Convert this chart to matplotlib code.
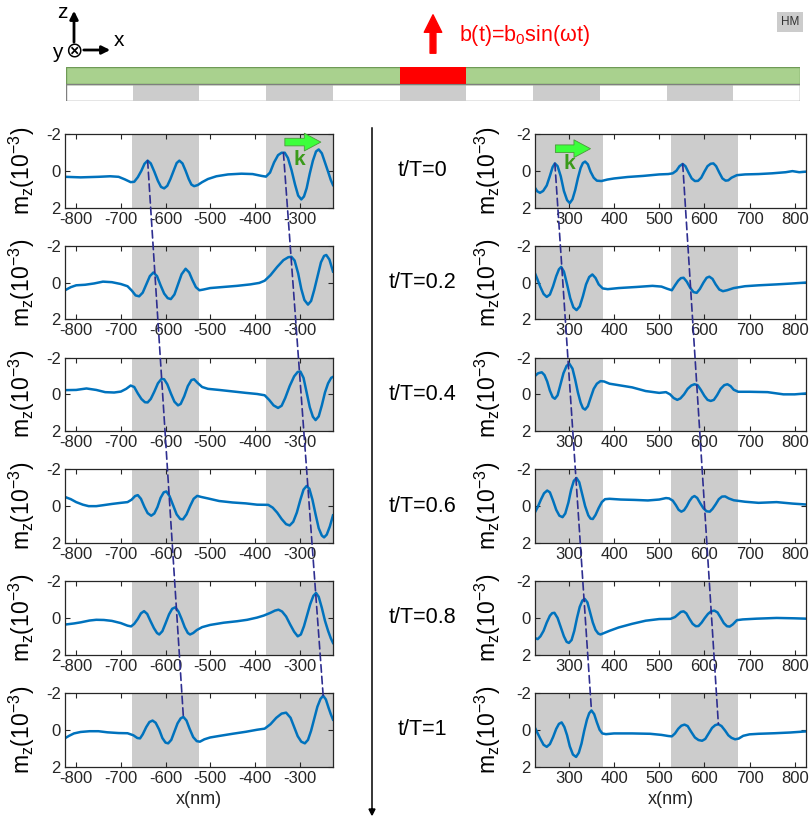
import matplotlib
matplotlib.use("Agg")
import matplotlib.pyplot as plt
from matplotlib.patches import Rectangle, ConnectionPatch

plt.rcParams['font.family'] = ['Liberation Sans', 'DejaVu Sans']
plt.rcParams['mathtext.default'] = 'regular'
plt.rcParams['axes.unicode_minus'] = False

# ---- data (x in nm, mz in 1e-3) ----
time_labels = ["t/T=0", "t/T=0.2", "t/T=0.4", "t/T=0.6", "t/T=0.8", "t/T=1"]
shaded = [(-675, -525), (-375, -225), (-75, 75), (225, 375), (525, 675)]
antenna = (-75, 75)

x_L0 = [-825, -790, -750, -724, -705, -691, -678, -670, -662, -654, -647, -640, -633, -625, -617, -610, -603, -596,
        -589, -581, -575, -569, -562, -555, -548, -542, -536, -528, -518, -505, -486, -460, -430, -405, -385, -375,
        -366, -357, -348, -340, -333, -326, -318, -310, -303, -296, -290, -284, -277, -270, -263, -257, -250, -243,
        -236, -230, -225]
mz_L0 = [0.33, 0.36, 0.33, 0.30, 0.33, 0.47, 0.62, 0.60, 0.35, 0.0, -0.38, -0.55, -0.40, 0.05, 0.55, 0.88, 0.96, 0.82,
         0.45, -0.05, -0.42, -0.55, -0.40, 0.0, 0.45, 0.75, 0.84, 0.78, 0.62, 0.45, 0.30, 0.20, 0.16, 0.18, 0.28, 0.32,
         0.10, -0.45, -0.85, -0.98, -0.98, -0.70, -0.05, 0.75, 1.35, 1.56, 1.40, 0.95, 0.15, -0.55, -1.05, -1.16, -0.95,
         -0.45, 0.05, 0.50, 0.78]

x_L1 = [-825, -812, -800, -780, -760, -740, -720, -700, -685, -675, -667, -659, -651, -643, -635, -627, -619, -611,
        -603, -595, -588, -580, -572, -564, -555, -547, -540, -532, -524, -515, -500, -470, -440, -410, -390, -378,
        -365, -350, -336, -325, -318, -311, -303, -296, -289, -281, -274, -267, -260, -252, -245, -240, -233, -225]
mz_L1 = [0.42, 0.25, 0.15, 0.12, 0.05, -0.05, -0.02, 0.08, 0.20, 0.45, 0.70, 0.75, 0.55, 0.10, -0.35, -0.55, -0.35,
         0.15, 0.60, 0.85, 0.90, 0.65, 0.10, -0.45, -0.75, -0.55, -0.15, 0.25, 0.42, 0.38, 0.30, 0.24, 0.18, 0.10, 0.02,
         -0.10, -0.40, -0.85, -1.22, -1.38, -1.40, -1.20, -0.50, 0.35, 0.95, 1.20, 1.00, 0.40, -0.30, -1.10, -1.45,
         -1.50, -1.25, -0.60]

x_L2 = [-825, -800, -777, -755, -735, -715, -700, -688, -678, -670, -662, -654, -646, -640, -633, -625, -617, -609,
        -603, -596, -588, -580, -572, -566, -558, -550, -542, -536, -528, -518, -505, -480, -450, -420, -395, -378,
        -368, -358, -348, -340, -332, -322, -312, -304, -298, -291, -284, -277, -270, -264, -257, -250, -243, -236,
        -229, -225]
mz_L2 = [-0.23, -0.24, -0.32, -0.24, -0.12, -0.10, -0.15, -0.30, -0.48, -0.40, -0.05, 0.25, 0.43, 0.44, 0.25, -0.15,
         -0.60, -0.84, -0.82, -0.55, -0.05, 0.40, 0.60, 0.52, 0.10, -0.45, -0.78, -0.82, -0.62, -0.40, -0.30, -0.24,
         -0.16, -0.08, -0.02, 0.05, 0.30, 0.60, 0.74, 0.62, 0.20, -0.45, -0.98, -1.22, -1.24, -0.90, -0.10, 0.70, 1.22,
         1.40, 1.20, 0.60, -0.10, -0.60, -0.90, -0.95]

x_L3 = [-825, -812, -800, -785, -772, -755, -740, -720, -700, -685, -676, -668, -662, -655, -647, -640, -632, -625,
        -618, -611, -604, -598, -591, -583, -575, -567, -561, -553, -545, -537, -529, -520, -505, -480, -450, -420,
        -395, -370, -360, -350, -340, -330, -322, -314, -306, -298, -291, -284, -278, -271, -264, -257, -250, -245,
        -239, -232, -225]
mz_L3 = [-0.50, -0.38, -0.22, -0.08, 0.0, 0.0, -0.05, -0.12, -0.18, -0.22, -0.35, -0.55, -0.60, -0.40, 0.05, 0.38, 0.52,
         0.40, 0.05, -0.45, -0.75, -0.80, -0.55, -0.05, 0.45, 0.70, 0.72, 0.45, 0.0, -0.40, -0.56, -0.50, -0.42, -0.28,
         -0.20, -0.15, -0.08, -0.07, 0.08, 0.35, 0.70, 0.98, 1.05, 0.85, 0.35, -0.35, -0.90, -1.10, -0.95, -0.35, 0.45,
         1.20, 1.60, 1.70, 1.55, 1.10, 0.50]

x_L4 = [-825, -805, -790, -770, -755, -738, -720, -700, -685, -677, -670, -662, -655, -648, -641, -634, -626, -619,
        -614, -607, -600, -592, -585, -578, -571, -564, -557, -550, -545, -538, -530, -518, -500, -470, -440, -417,
        -395, -380, -365, -355, -347, -339, -330, -321, -312, -304, -297, -290, -283, -276, -269, -263, -257, -250,
        -243, -236, -230, -225]
mz_L4 = [0.36, 0.30, 0.24, 0.14, 0.10, 0.11, 0.16, 0.28, 0.42, 0.46, 0.32, 0.05, -0.25, -0.37, -0.22, 0.15, 0.55, 0.82,
         0.90, 0.72, 0.30, -0.20, -0.50, -0.58, -0.35, 0.05, 0.50, 0.82, 0.90, 0.82, 0.66, 0.50, 0.38, 0.26, 0.18, 0.10,
         -0.02, -0.13, -0.28, -0.40, -0.45, -0.35, -0.08, 0.35, 0.75, 1.00, 0.90, 0.45, -0.15, -0.75, -1.20, -1.36,
         -1.15, -0.55, 0.15, 0.70, 1.10, 1.36]

x_L5 = [-825, -815, -805, -790, -770, -750, -730, -705, -685, -672, -663, -657, -651, -643, -636, -629, -622, -614,
        -607, -600, -594, -587, -580, -573, -566, -560, -553, -546, -538, -530, -523, -513, -500, -478, -450, -420,
        -395, -378, -365, -352, -340, -330, -320, -312, -304, -296, -288, -281, -274, -267, -260, -253, -247, -241,
        -235, -230, -225]
mz_L5 = [0.46, 0.32, 0.20, 0.12, 0.08, 0.08, 0.14, 0.18, 0.19, 0.30, 0.45, 0.47, 0.25, -0.15, -0.42, -0.50, -0.38, 0.0,
         0.45, 0.70, 0.74, 0.55, 0.10, -0.35, -0.62, -0.70, -0.50, -0.05, 0.40, 0.62, 0.65, 0.52, 0.42, 0.33, 0.22,
         0.11, 0.0, -0.06, -0.30, -0.65, -0.88, -0.93, -0.65, -0.15, 0.35, 0.65, 0.74, 0.55, 0.05, -0.60, -1.25, -1.68,
         -1.85, -1.65, -1.20, -0.85, -0.55]

x_R0 = [225, 230, 236, 243, 251, 258, 264, 269, 275, 282, 289, 296, 302, 308, 314, 320, 326, 331, 336, 342, 348, 355,
        362, 372, 385, 400, 430, 465, 500, 520, 530, 538, 545, 552, 558, 565, 572, 579, 586, 593, 600, 607, 614, 620,
        626, 633, 640, 647, 653, 660, 672, 690, 720, 750, 780, 795, 810, 825]
mz_R0 = [0.93, 1.12, 1.20, 1.10, 0.80, 0.28, -0.20, -0.40, -0.25, 0.30, 1.10, 1.60, 1.76, 1.55, 1.05, 0.40, -0.15,
         -0.42, -0.50, -0.35, 0.05, 0.38, 0.54, 0.56, 0.48, 0.42, 0.34, 0.28, 0.20, 0.18, 0.14, 0.0, -0.25, -0.37,
         -0.25, 0.10, 0.42, 0.56, 0.55, 0.38, 0.05, -0.25, -0.38, -0.40, -0.25, 0.10, 0.42, 0.54, 0.52, 0.38, 0.24,
         0.20, 0.18, 0.14, 0.08, 0.02, 0.08, 0.05]

x_R1 = [225, 230, 237, 244, 251, 258, 265, 272, 278, 283, 289, 296, 303, 310, 317, 324, 331, 338, 345, 352, 359, 366,
        375, 386, 410, 450, 485, 505, 518, 528, 535, 542, 548, 554, 561, 569, 576, 583, 590, 598, 605, 611, 618, 625,
        633, 641, 650, 665, 690, 720, 760, 795, 825]
mz_R1 = [-0.50, -0.20, 0.25, 0.62, 0.78, 0.65, 0.20, -0.35, -0.72, -0.85, -0.60, 0.10, 0.85, 1.35, 1.50, 1.30, 0.75,
         0.10, -0.30, -0.44, -0.25, 0.10, 0.32, 0.36, 0.30, 0.24, 0.18, 0.22, 0.34, 0.42, 0.15, -0.10, -0.24, -0.26,
         -0.05, 0.30, 0.52, 0.56, 0.35, 0.0, -0.26, -0.32, -0.20, 0.10, 0.38, 0.47, 0.42, 0.30, 0.20, 0.15, 0.10, 0.05,
         0.0]

x_R2 = [225, 232, 240, 246, 252, 258, 264, 269, 275, 281, 288, 295, 301, 308, 314, 320, 326, 331, 336, 342, 348, 355,
        362, 370, 378, 390, 410, 440, 470, 500, 515, 524, 532, 540, 547, 555, 563, 571, 578, 585, 592, 600, 607, 614,
        621, 628, 636, 644, 651, 658, 665, 675, 700, 740, 775, 800, 825]
mz_R2 = [-1.00, -1.15, -1.20, -1.05, -0.70, -0.20, 0.15, 0.24, 0.05, -0.50, -1.15, -1.55, -1.67, -1.40, -0.80, -0.10,
         0.45, 0.75, 0.83, 0.65, 0.20, -0.30, -0.58, -0.72, -0.70, -0.58, -0.50, -0.38, -0.18, -0.08, -0.12, 0.0, 0.20,
         0.30, 0.22, 0.0, -0.30, -0.48, -0.55, -0.50, -0.25, 0.08, 0.30, 0.36, 0.30, 0.05, -0.30, -0.50, -0.55, -0.45,
         -0.25, -0.14, -0.14, -0.12, 0.0, 0.0, -0.05]

x_R3 = [225, 231, 238, 245, 252, 258, 265, 272, 279, 286, 292, 299, 305, 311, 317, 323, 329, 336, 343, 348, 353, 359,
        366, 373, 380, 390, 415, 445, 475, 500, 515, 522, 530, 537, 543, 549, 555, 561, 567, 573, 578, 584, 591, 598,
        605, 612, 618, 625, 632, 639, 646, 654, 665, 690, 720, 760, 795, 825]
mz_R3 = [0.33, 0.05, -0.35, -0.70, -0.85, -0.75, -0.30, 0.20, 0.52, 0.60, 0.40, -0.20, -0.90, -1.38, -1.53, -1.30,
         -0.70, 0.0, 0.50, 0.68, 0.70, 0.48, 0.10, -0.22, -0.38, -0.40, -0.36, -0.34, -0.31, -0.36, -0.44, -0.42, -0.30,
         -0.05, 0.20, 0.30, 0.22, 0.0, -0.28, -0.48, -0.55, -0.45, -0.15, 0.12, 0.28, 0.30, 0.15, -0.10, -0.38, -0.52,
         -0.53, -0.42, -0.32, -0.24, -0.18, -0.22, -0.14, -0.09]

x_R4 = [225, 231, 237, 244, 251, 258, 263, 268, 275, 282, 289, 295, 300, 306, 312, 318, 324, 330, 335, 341, 347, 353,
        359, 365, 370, 378, 390, 410, 440, 470, 500, 525, 535, 542, 548, 554, 560, 567, 574, 581, 587, 594, 601, 608,
        615, 622, 629, 636, 643, 650, 656, 663, 672, 685, 715, 760, 800, 825]
mz_R4 = [1.10, 1.15, 1.00, 0.70, 0.25, -0.12, -0.26, -0.28, 0.0, 0.50, 1.00, 1.30, 1.36, 1.20, 0.70, 0.0, -0.60, -0.95,
         -1.04, -0.85, -0.30, 0.25, 0.65, 0.85, 0.90, 0.82, 0.70, 0.52, 0.32, 0.15, 0.06, 0.05, -0.05, -0.20, -0.33,
         -0.36, -0.25, 0.05, 0.32, 0.45, 0.44, 0.25, 0.0, -0.22, -0.36, -0.40, -0.30, -0.02, 0.28, 0.45, 0.47, 0.35,
         0.12, 0.08, 0.04, 0.0, 0.02, 0.04]

x_R5 = [225, 230, 237, 244, 251, 258, 265, 272, 278, 284, 290, 296, 302, 309, 316, 322, 328, 334, 340, 345, 350, 356,
        362, 368, 374, 382, 400, 440, 480, 505, 520, 528, 535, 542, 549, 556, 563, 571, 579, 587, 595, 602, 609, 617,
        624, 631, 638, 646, 653, 660, 668, 676, 686, 700, 720, 755, 790, 825]
mz_R5 = [-0.10, 0.15, 0.50, 0.82, 0.93, 0.78, 0.40, -0.05, -0.32, -0.40, -0.15, 0.30, 0.90, 1.35, 1.48, 1.25, 0.75,
         0.05, -0.55, -0.90, -1.05, -0.85, -0.40, 0.0, 0.20, 0.24, 0.20, 0.20, 0.22, 0.28, 0.34, 0.36, 0.20, -0.05,
         -0.22, -0.28, -0.20, 0.12, 0.42, 0.56, 0.60, 0.50, 0.22, -0.10, -0.25, -0.30, -0.20, 0.05, 0.30, 0.44, 0.52,
         0.48, 0.33, 0.25, 0.22, 0.19, 0.15, 0.09]

left_curves = [(x_L0, mz_L0), (x_L1, mz_L1), (x_L2, mz_L2), (x_L3, mz_L3), (x_L4, mz_L4), (x_L5, mz_L5)]
right_curves = [(x_R0, mz_R0), (x_R1, mz_R1), (x_R2, mz_R2), (x_R3, mz_R3), (x_R4, mz_R4), (x_R5, mz_R5)]

# wave-front guides: (peak at t/T=0, peak at t/T=1)
fronts_left = [((-640, -0.55), (-560, -0.70)), ((-336, -0.98), (-247, -1.85))]
fronts_right = [((269, -0.40), (350, -1.05)), ((552, -0.37), (631, -0.30))]

left_lim = (-825, -225)
right_lim = (225, 825)
left_ticks = [-800, -700, -600, -500, -400, -300]
right_ticks = [300, 400, 500, 600, 700, 800]

W, H = 810, 821
fig = plt.figure(figsize=(W / 100, H / 100), dpi=100)


def fx(px):
    return px / W


def fy(py):
    return 1 - py / H


curve_color = '#0072BD'
ink = '#262626'
gray = (0.8, 0.8, 0.8)

row_top0 = 134
row_step = 111.8
row_h = 73.5


def make_panel(left_px, width_px, row, xlim, ticks, xy, last):
    top = row_top0 + row * row_step
    ax = fig.add_axes([fx(left_px), fy(top + row_h), width_px / W, row_h / H])
    for a, b in shaded:
        ax.axvspan(a, b, color=gray, lw=0, zorder=0)
    ax.plot(xy[0], xy[1], color=curve_color, lw=1.8, zorder=2)
    ax.set_xlim(*xlim)
    ax.set_ylim(2, -2)
    ax.set_xticks(ticks)
    ax.set_yticks([-2, 0, 2])
    ax.tick_params(direction='in', top=True, right=True, length=3.5, width=0.8,
                   labelsize=12, labelcolor=ink, color=ink, pad=3)
    for s in ax.spines.values():
        s.set_color(ink)
        s.set_linewidth(0.9)
    ax.set_ylabel(r'm$_z$(10$^{-3}$)', fontsize=16.5, color='black')
    if last:
        ax.set_xlabel('x(nm)', fontsize=13, color=ink, labelpad=4)
    return ax


axL = [make_panel(65, 268, i, left_lim, left_ticks, left_curves[i], i == 5) for i in range(6)]
axR = [make_panel(535, 271, i, right_lim, right_ticks, right_curves[i], i == 5) for i in range(6)]
for ax in axL:
    ax.yaxis.set_label_coords(-0.105, 0.5)
for ax in axR:
    ax.yaxis.set_label_coords(-0.118, 0.5)

# time labels
for i, lab in enumerate(time_labels):
    fig.text(fx(422), fy(row_top0 + i * row_step + row_h / 2), lab, fontsize=15.5,
             ha='center', va='center', color='black')

# vertical time arrow
fig.add_artist(plt.Line2D([fx(372), fx(372)], [fy(128), fy(812)], color='black', lw=1.1))
fig.patches.append(matplotlib.patches.FancyArrow(fx(372), fy(810), 0, -5 / H, width=0,
                                                 head_width=6 / W, head_length=6 / H,
                                                 color='black', transform=fig.transFigure,
                                                 length_includes_head=True))

# dashed wave-front lines
for axes, fronts in ((axL, fronts_left), (axR, fronts_right)):
    for p0, p1 in fronts:
        con = ConnectionPatch(xyA=p0, coordsA=axes[0].transData, xyB=p1, coordsB=axes[5].transData,
                              color='#2e2e90', lw=1.2, linestyle=(0, (4.5, 2.5)), zorder=5)
        fig.add_artist(con)

# green k arrows
for ax, (x0, x1, ya), (kx, ky) in ((axL[0], (0.81, 0.965, 0.89), (0.875, 0.65)),
                                   (axR[0], (0.065, 0.215, 0.80), (0.125, 0.60))):
    ax.annotate('', xy=(x1, ya), xytext=(x0, ya), xycoords='axes fraction',
                arrowprops=dict(arrowstyle='simple,head_length=0.7,head_width=0.75,tail_width=0.32',
                                fc='#3cff3c', ec='#4a9a3a', lw=0.6, mutation_scale=17), zorder=6)
    ax.text(kx, ky, 'k', transform=ax.transAxes, color='#3a9a1a', fontsize=15,
            fontweight='bold', ha='center', va='center', zorder=6)

# ---- schematic on top ----
ax_s = fig.add_axes([fx(66), fy(101), (800 - 66) / W, 34 / H])
ax_s.set_xlim(-825, 825)
ax_s.set_ylim(0, 2)
ax_s.axis('off')
ax_s.add_patch(Rectangle((-825, 0), 1650, 1, fc='white', ec='#7f7f7f', lw=1.0, zorder=1))
for a, b in shaded:
    ax_s.add_patch(Rectangle((a, 0), b - a, 1, fc=gray, ec='none', zorder=2))
ax_s.add_patch(Rectangle((-825, 1), 1650, 1, fc='#a9d18e', ec='#6f9a56', lw=1.0, zorder=3))
ax_s.add_patch(Rectangle((antenna[0], 1), antenna[1] - antenna[0], 1, fc='#ff0000', ec='none', zorder=4))
ax_s.plot([-825, 825], [1, 1], color='#7f7f7f', lw=0.8, zorder=5)

# field arrow and label
fig.add_artist(matplotlib.patches.FancyArrowPatch((fx(433), fy(56)), (fx(433), fy(12)),
                                                  transform=fig.transFigure,
                                                  arrowstyle='simple,head_length=0.9,head_width=0.9,tail_width=0.3',
                                                  mutation_scale=14, color='#ff0000'))
fig.text(fx(459), fy(36), r'b(t)=b$_0$sin(ωt)', color='#ff0000', fontsize=15.5, ha='left', va='center')

# HM tag
fig.text(fx(790), fy(22), 'HM', fontsize=8.5, ha='center', va='center', color='#333333',
         bbox=dict(boxstyle='square,pad=0.3', fc=gray, ec='none'))

# coordinate icon
fig.add_artist(matplotlib.patches.FancyArrowPatch((fx(74), fy(45)), (fx(74), fy(8)),
                                                  transform=fig.transFigure, arrowstyle='-|>',
                                                  mutation_scale=12, lw=2.0, color='black'))
fig.add_artist(matplotlib.patches.FancyArrowPatch((fx(81), fy(50)), (fx(113), fy(50)),
                                                  transform=fig.transFigure, arrowstyle='-|>',
                                                  mutation_scale=12, lw=2.0, color='black'))
fig.text(fx(74), fy(51), '⊗', fontsize=15, ha='center', va='center', family='DejaVu Sans')
fig.text(fx(62), fy(13), 'z', fontsize=15, ha='center', va='center')
fig.text(fx(119), fy(41), 'x', fontsize=15, ha='center', va='center')
fig.text(fx(57), fy(53), 'y', fontsize=15, ha='center', va='center')

fig.savefig('out.png', dpi=100)
